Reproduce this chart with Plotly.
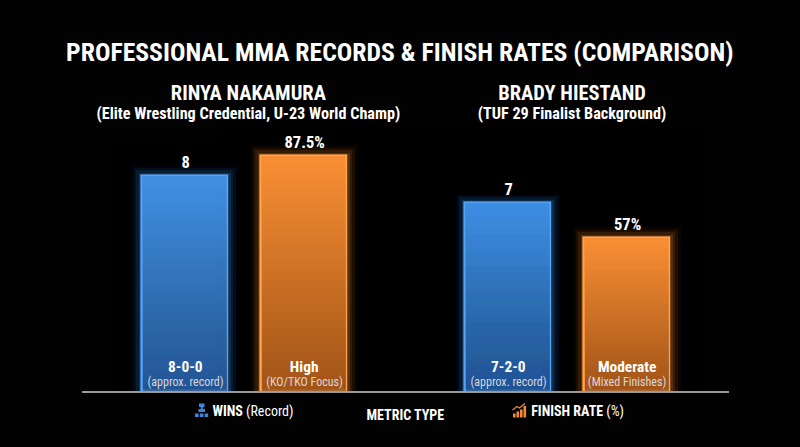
import plotly.graph_objects as go

# ---- data ----
fighters = ["RINYA NAKAMURA", "BRADY HIESTAND"]
subtitles = ["(Elite Wrestling Credential, U-23 World Champ)", "(TUF 29 Finalist Background)"]
wins = [8, 7]
finish_rate = [87.5, 57]
wins_labels = ["8", "7"]
finish_labels = ["87.5%", "57%"]
win_inner = ["8-0-0", "7-2-0"]
win_inner_sub = ["(approx. record)", "(approx. record)"]
finish_inner = ["High", "Moderate"]
finish_inner_sub = ["(KO/TKO Focus)", "(Mixed Finishes)"]
title = "PROFESSIONAL MMA RECORDS &amp; FINISH RATES (COMPARISON)"
axis_title = "METRIC TYPE"

# ---- layout helpers ----
W, H = 800, 447
FONT = "Roboto"
BLUE, ORANGE = "#4191e6", "#fb9035"
BLUE_EDGE, ORANGE_EDGE = "#5aa5f2", "#ffa452"
slots_win = [0, 2.714]
slots_fin = [1, 3.714]
BW = 0.73
def px(x): return x / W
def py(y): return 1 - y / H

fig = go.Figure()
ann = []

def series(xs, ys, color, edge, yaxis, labels):
    for lw, op in [(22, .05), (16, .07), (11, .10), (6, .17), (3, .25)]:
        fig.add_trace(go.Bar(x=xs, y=ys, width=BW, yaxis=yaxis, opacity=op,
                             marker=dict(color="rgba(0,0,0,0)", line=dict(color=color, width=lw)),
                             hoverinfo="skip", showlegend=False))
    fig.add_trace(go.Bar(x=xs, y=ys, width=BW, yaxis=yaxis,
                         marker=dict(color=color, line=dict(color=edge, width=1.5)),
                         showlegend=False))
    for f in [i / 30 for i in range(1, 31)]:
        fig.add_trace(go.Bar(x=xs, y=[v * f for v in ys], width=BW - 0.02, yaxis=yaxis,
                             marker=dict(color="rgba(0,0,0,0.012)", line=dict(width=0)),
                             hoverinfo="skip", showlegend=False))
    for x, v, s in zip(xs, ys, labels):
        ann.append(dict(x=x, y=v, xref="x", yref=yaxis, text=s, showarrow=False, xanchor="center",
                        yanchor="bottom", yshift=2,
                        font=dict(family=FONT, size=16.5, color="white", weight="bold")))

series(slots_win, wins, BLUE, BLUE_EDGE, "y", wins_labels)
series(slots_fin, finish_rate, ORANGE, ORANGE_EDGE, "y2", finish_labels)

def text(x, y, s, size, bold=False, xref="paper", color="white"):
    ann.append(dict(x=x, y=py(y), xref=xref, yref="paper", text=s, showarrow=False,
                    xanchor="center", yanchor="middle",
                    font=dict(family=FONT, size=size, color=color, weight="bold" if bold else "normal")))

text(px(400), 52, title, 25.7, True)
for i, cx in enumerate([px(248), px(572)]):
    text(cx, 101.5,
         f"<span style='font-size:20.5px'>{fighters[i]}</span><br>"
         f"<span style='font-size:16.2px'>{subtitles[i]}</span>", 14.6, True)
for xs, a, b in [(slots_win, win_inner, win_inner_sub), (slots_fin, finish_inner, finish_inner_sub)]:
    for x, s, t in zip(xs, a, b):
        text(x, 367, s, 15.4, True, "x")
        text(x, 382, t, 12, False, "x", "#d8d8d8")

text(px(253), 411, "<b>WINS</b> (Record)", 14)
text(px(577), 411, "<b>FINISH RATE</b> (%)", 14)
text(px(406), 415, axis_title, 14, True)

# small pictograms beside the axis labels
shapes = []
def rect(x0, y0, x1, y1, c):
    shapes.append(dict(type="rect", xref="paper", yref="paper", x0=px(x0), x1=px(x1), y0=py(y0), y1=py(y1),
                       fillcolor=c, line=dict(width=0)))
ICB, ICO = "#3f86d8", "#f08a35"
rect(199, 403.5, 204.5, 407, ICB); rect(200.8, 407, 202.8, 409, ICB); rect(198.5, 409, 205, 412, ICB)
for x0 in [195, 199.8, 204.6]:
    rect(x0, 413.5, x0 + 3.6, 417, ICB)
for x0, top in [(513, 413.5), (516.5, 411.5), (520, 409.5), (523.5, 406)]:
    rect(x0, top, x0 + 2.6, 417.5, ICO)
pts = [(512.5, 410), (517, 406.5), (519.5, 408), (525, 403.5)]
shapes.append(dict(type="path", xref="paper", yref="paper",
                   path="M " + " L ".join(f"{px(a)},{py(b)}" for a, b in pts),
                   line=dict(color=ICO, width=1.2)))

fig.update_layout(
    annotations=ann, shapes=shapes, width=W, height=H, barmode="overlay", bargap=0,
    margin=dict(l=0, r=0, t=0, b=0), paper_bgcolor="#020202", plot_bgcolor="#020202",
    xaxis=dict(domain=[px(82), px(729)], range=[-0.866, 4.571], showgrid=False, zeroline=False,
               showticklabels=False, ticks="", showline=True, linecolor="#9a9a9a", linewidth=2),
    yaxis=dict(domain=[py(391.3), py(100)], range=[0, 10.83], visible=False, showgrid=False),
    yaxis2=dict(domain=[py(391.3), py(100)], range=[0, 108.2], overlaying="y", visible=False, showgrid=False),
)
post = """
document.documentElement.style.background='#020202';
document.body.style.margin='0';document.body.style.background='#020202';
var s=document.createElement('style');s.textContent='svg text{font-stretch:75%}';document.head.appendChild(s);
"""
fig.write_html("out.html", post_script=post, config={"displayModeBar": False})
